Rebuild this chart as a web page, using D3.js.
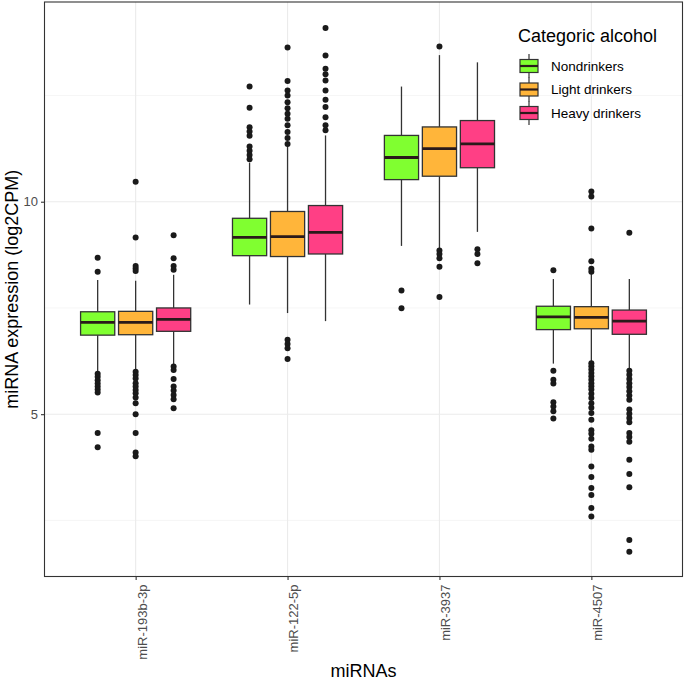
<!DOCTYPE html>
<html>
<head>
<meta charset="utf-8">
<script src="https://cdn.jsdelivr.net/npm/d3@7"></script>
<style>
  html, body { margin: 0; padding: 0; background: #fff; }
  svg text { font-family: "Liberation Sans", Arial, Helvetica, sans-serif; }
</style>
</head>
<body>
<svg id="chart" width="685" height="681"></svg>
<script>
// ---- data ----
const categories = ["miR-193b-3p", "miR-122-5p", "miR-3937", "miR-4507"];
const groups = ["Nondrinkers", "Light drinkers", "Heavy drinkers"];
const groupColors = ["#80FF30", "#FFB53A", "#FF3F85"];
const yTicks = [5, 10];
const yMinorTicks = [2.5, 7.5, 12.5];

// [whiskerLow, q1, median, q3, whiskerHigh] per category
const nondrinkersStats = [
  [6.00, 6.86, 7.16, 7.41, 8.16],
  [7.58, 8.73, 9.16, 9.61, 10.92],
  [8.96, 10.52, 11.04, 11.56, 12.71],
  [6.19, 6.99, 7.29, 7.54, 8.18]
];
const lightStats = [
  [6.04, 6.87, 7.16, 7.42, 8.14],
  [7.38, 8.71, 9.18, 9.77, 11.31],
  [8.90, 10.60, 11.25, 11.76, 13.45],
  [6.24, 7.01, 7.28, 7.53, 8.30]
];
const heavyStats = [
  [6.18, 6.95, 7.23, 7.50, 8.28],
  [7.19, 8.77, 9.28, 9.91, 11.56],
  [9.29, 10.80, 11.36, 11.91, 13.28],
  [6.06, 6.88, 7.19, 7.45, 8.18]
];

const nondrinkersOutliers = [
  [8.35, 8.68, 5.95, 5.88, 5.80, 5.72, 5.65, 5.58, 5.51, 4.56, 4.22],
  [12.71, 12.21, 11.75, 11.65, 11.55, 11.30, 11.20, 11.10, 11.00],
  [7.91, 7.49],
  [8.39, 6.02, 5.81, 5.72, 5.28, 5.18, 5.07, 4.90]
];
const lightOutliers = [
  [8.49, 8.43, 8.37, 9.16, 10.47, 6.00, 5.92, 5.84, 5.73, 5.65, 5.57, 5.49, 5.39, 5.26, 5.00, 4.56, 4.10, 4.01],
  [13.63, 12.84, 12.62, 12.50, 12.34, 12.20, 12.07, 11.95, 11.80, 11.64, 11.50, 11.36, 6.75, 6.65, 6.55, 6.30],
  [13.65, 8.85, 8.77, 8.67, 8.47, 7.76],
  [10.24, 10.12, 9.37, 8.60, 8.42, 8.35, 6.20, 6.13, 6.05, 5.97, 5.89, 5.81, 5.73, 5.66, 5.58, 5.48, 5.38,
   5.26, 5.15, 5.03, 4.87, 4.62, 4.54, 4.42, 4.24, 4.16, 3.77, 3.52, 3.26, 3.10, 2.79, 2.59]
];
const heavyOutliers = [
  [8.49, 8.40, 8.67, 9.21, 6.12, 6.04, 5.83, 5.65, 5.56, 5.45, 5.35, 5.14],
  [14.09, 13.44, 13.13, 13.00, 12.85, 12.62, 12.40, 12.23, 11.99, 11.80, 11.68],
  [8.88, 8.77, 8.55],
  [9.27, 6.02, 5.93, 5.83, 5.73, 5.64, 5.54, 5.44, 5.34, 5.11, 5.01, 4.91, 4.81, 4.56, 4.46, 4.35,
   3.93, 3.59, 3.28, 2.04, 1.76]
];

const statsBySeries = [nondrinkersStats, lightStats, heavyStats];
const outliersBySeries = [nondrinkersOutliers, lightOutliers, heavyOutliers];

// ---- layout ----
const svg = d3.select("#chart");
const panel = { left: 44.5, right: 682.5, top: 2, bottom: 576.5 };
const yDomain = [1.18, 14.70];

const x = d3.scalePoint().domain(categories).range([panel.left, panel.right]).padding(0.6);
const step = x.step();
const xSub = d3.scaleBand().domain(groups).range([-0.375 * step, 0.375 * step]);
const boxW = xSub.bandwidth() * 0.9;
const y = d3.scaleLinear().domain(yDomain).range([panel.bottom, panel.top]);

// grid
const grid = svg.append("g");
grid.selectAll("line.ymin").data(yMinorTicks).join("line")
  .attr("x1", panel.left).attr("x2", panel.right)
  .attr("y1", d => y(d)).attr("y2", d => y(d))
  .attr("stroke", "#f2f2f2").attr("stroke-width", 0.7);
grid.selectAll("line.ymaj").data(yTicks).join("line")
  .attr("x1", panel.left).attr("x2", panel.right)
  .attr("y1", d => y(d)).attr("y2", d => y(d))
  .attr("stroke", "#ebebeb").attr("stroke-width", 1.1);
grid.selectAll("line.xmaj").data(categories).join("line")
  .attr("x1", d => x(d)).attr("x2", d => x(d))
  .attr("y1", panel.top).attr("y2", panel.bottom)
  .attr("stroke", "#ebebeb").attr("stroke-width", 1.1);

// boxes
const dark = "#333333";
categories.forEach((cat, ci) => {
  groups.forEach((g, gi) => {
    const s = statsBySeries[gi][ci];
    const cx = x(cat) + xSub(g) + xSub.bandwidth() / 2;
    const gg = svg.append("g");
    // whiskers
    gg.append("line").attr("x1", cx).attr("x2", cx)
      .attr("y1", y(s[4])).attr("y2", y(s[3]))
      .attr("stroke", dark).attr("stroke-width", 1.3);
    gg.append("line").attr("x1", cx).attr("x2", cx)
      .attr("y1", y(s[1])).attr("y2", y(s[0]))
      .attr("stroke", dark).attr("stroke-width", 1.3);
    // box
    gg.append("rect")
      .attr("x", cx - boxW / 2).attr("width", boxW)
      .attr("y", y(s[3])).attr("height", y(s[1]) - y(s[3]))
      .attr("fill", groupColors[gi]).attr("stroke", dark).attr("stroke-width", 1.3);
    // median
    gg.append("line").attr("x1", cx - boxW / 2).attr("x2", cx + boxW / 2)
      .attr("y1", y(s[2])).attr("y2", y(s[2]))
      .attr("stroke", "#2a1a1a").attr("stroke-width", 2.8);
    // outliers
    gg.selectAll("circle").data(outliersBySeries[gi][ci]).join("circle")
      .attr("cx", cx).attr("cy", d => y(d)).attr("r", 3)
      .attr("fill", "#1a1a1a");
  });
});

// panel border
svg.append("rect")
  .attr("x", panel.left).attr("y", panel.top)
  .attr("width", panel.right - panel.left).attr("height", panel.bottom - panel.top)
  .attr("fill", "none").attr("stroke", "#333333").attr("stroke-width", 1.1);

// y axis
const yAxis = svg.append("g").attr("transform", `translate(${panel.left},0)`)
  .call(d3.axisLeft(y).tickValues(yTicks).tickSize(3.5).tickPadding(3).tickFormat(d3.format("d")));
yAxis.select(".domain").remove();
yAxis.selectAll(".tick line").attr("stroke", "#333333").attr("stroke-width", 1.1);
yAxis.selectAll(".tick text").attr("fill", "#4d4d4d").style("font-size", "13px")
  .style("font-family", "Liberation Sans, Arial, sans-serif");

// x axis
const xAxis = svg.append("g").attr("transform", `translate(0,${panel.bottom})`)
  .call(d3.axisBottom(x).tickSize(3.5).tickSizeOuter(0));
xAxis.select(".domain").remove();
xAxis.selectAll(".tick line").attr("stroke", "#333333").attr("stroke-width", 1.1);
xAxis.selectAll(".tick text")
  .attr("fill", "#4d4d4d").style("font-size", "13px")
  .style("font-family", "Liberation Sans, Arial, sans-serif")
  .attr("transform", "rotate(-90)")
  .attr("text-anchor", "end")
  .attr("x", -8).attr("y", 0).attr("dy", "0.8em").attr("dx", 0);

// axis titles
svg.append("text")
  .attr("transform", `translate(12,${(panel.top + panel.bottom) / 2}) rotate(-90)`)
  .attr("text-anchor", "middle").attr("dy", "0.35em")
  .style("font-size", "18px").attr("fill", "#000")
  .text("miRNA expression (log2CPM)");
svg.append("text")
  .attr("x", (panel.left + panel.right) / 2).attr("y", 677)
  .attr("text-anchor", "middle")
  .style("font-size", "18px").attr("fill", "#000")
  .text("miRNAs");

// legend
const lg = svg.append("g").attr("transform", "translate(518,0)");
lg.append("text").attr("x", 0).attr("y", 42)
  .style("font-size", "18px").attr("fill", "#000").text("Categoric alcohol");
const rowY = d3.scalePoint().domain(groups).range([66, 113]);
groups.forEach((g, gi) => {
  const cy = rowY(g);
  const kx = 11;
  lg.append("line").attr("x1", kx).attr("x2", kx)
    .attr("y1", cy - 12).attr("y2", cy + 12)
    .attr("stroke", dark).attr("stroke-width", 1.2);
  lg.append("rect").attr("x", kx - 9).attr("width", 18)
    .attr("y", cy - 6.5).attr("height", 13)
    .attr("fill", groupColors[gi]).attr("stroke", dark).attr("stroke-width", 1.2);
  lg.append("line").attr("x1", kx - 9).attr("x2", kx + 9)
    .attr("y1", cy).attr("y2", cy)
    .attr("stroke", "#2a1a1a").attr("stroke-width", 2.2);
  lg.append("text").attr("x", 33).attr("y", cy).attr("dy", "0.36em")
    .style("font-size", "13.5px").attr("fill", "#000").text(g);
});
</script>
</body>
</html>
